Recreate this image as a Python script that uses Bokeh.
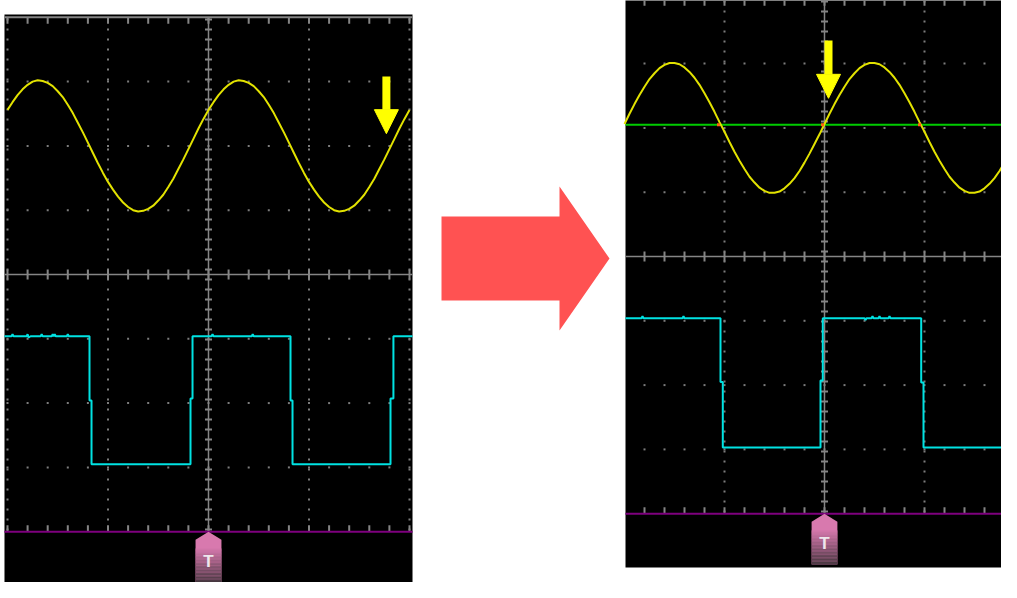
import numpy as np
from bokeh.plotting import figure
from bokeh.models import Range1d, Arrow, NormalHead
from bokeh.core.properties import value
from bokeh.embed import file_html
from bokeh.resources import INLINE

# ------------------------------------------------------------------
# DATA (oscilloscope divisions; time axis: 0 = trigger point)
# ------------------------------------------------------------------
SAMPLE_STEP = 0.05          # sampling interval of the displayed sine traces (div)
SAMPLE_START = -2.0

# Left screen, CH1 (yellow) sine, read every 0.05 div from t=-2.0 to 2.0
left_sine = [
    2.56, 2.68, 2.79, 2.88, 2.95, 3.00, 3.02, 3.01, 2.98, 2.93,
    2.85, 2.76, 2.64, 2.51, 2.36, 2.21, 2.05, 1.89, 1.73, 1.58,
    1.44, 1.32, 1.21, 1.12, 1.05, 1.00, 0.98, 0.99, 1.02, 1.07,
    1.15, 1.24, 1.36, 1.49, 1.64, 1.79, 1.95, 2.11, 2.27, 2.42,
    2.56, 2.68, 2.79, 2.88, 2.95, 3.00, 3.02, 3.01, 2.98, 2.93,
    2.85, 2.76, 2.64, 2.51, 2.36, 2.21, 2.05, 1.89, 1.73, 1.58,
    1.44, 1.32, 1.21, 1.12, 1.05, 1.00, 0.98, 0.99, 1.02, 1.07,
    1.15, 1.24, 1.36, 1.49, 1.64, 1.79, 1.95, 2.11, 2.27, 2.42,
    2.56,
]

# Right screen, CH1 (yellow) sine, read every 0.05 div from t=-2.0 to 2.0
right_sine = [
    2.06, 2.22, 2.37, 2.51, 2.64, 2.76, 2.85, 2.93, 2.98, 3.01,
    3.01, 2.99, 2.94, 2.87, 2.78, 2.67, 2.54, 2.40, 2.25, 2.09,
    1.94, 1.78, 1.63, 1.49, 1.36, 1.24, 1.15, 1.07, 1.02, 0.99,
    0.99, 1.01, 1.06, 1.13, 1.22, 1.33, 1.46, 1.60, 1.75, 1.90,
    2.06, 2.22, 2.37, 2.51, 2.64, 2.76, 2.85, 2.93, 2.98, 3.01,
    3.01, 2.99, 2.94, 2.87, 2.78, 2.67, 2.54, 2.40, 2.25, 2.09,
    1.94, 1.78, 1.63, 1.49, 1.36, 1.24, 1.15, 1.07, 1.02, 0.99,
    0.99, 1.01, 1.06, 1.13, 1.22, 1.33, 1.46, 1.60, 1.75, 1.90,
    2.06,
]

# CH2 (cyan) square waves: (time, level) vertices
left_sq_t = [-2.03, -1.96, -1.95, -1.94, -1.81, -1.80, -1.79, -1.77, -1.67, -1.66,
             -1.65, -1.56, -1.55, -1.54, -1.53, -1.52, -1.41, -1.40, -1.39, -1.184,
             -1.184, -1.164, -1.164, -0.179, -0.179, -0.159, -0.159, 0.03, 0.04, 0.05,
             0.43, 0.44, 0.45, 0.816, 0.816, 0.836, 0.836, 1.811, 1.811, 1.84,
             1.84, 2.03]
left_sq_v = [-0.96, -0.96, -0.93, -0.96, -0.96, -0.93, -0.98, -0.96, -0.96, -0.93,
             -0.96, -0.96, -0.93, -0.96, -0.93, -0.96, -0.96, -0.93, -0.96, -0.96,
             -1.96, -1.96, -2.95, -2.95, -1.93, -1.93, -0.96, -0.96, -0.93, -0.96,
             -0.96, -0.93, -0.96, -0.96, -1.96, -1.96, -2.95, -2.95, -1.93, -1.93,
             -0.96, -0.96]

right_sq_t = [-1.99, -1.83, -1.82, -1.81, -1.42, -1.41, -1.40, -1.04, -1.04, -1.017,
              -1.017, -0.04, -0.04, -0.017, -0.017, 0.40, 0.41, 0.42, 0.47, 0.48,
              0.49, 0.54, 0.55, 0.56, 0.64, 0.65, 0.66, 0.967, 0.967, 0.99,
              0.99, 1.90, 1.91, 2.0]
right_sq_v = [-0.96, -0.96, -0.93, -0.96, -0.96, -0.93, -0.96, -0.96, -1.95, -1.95,
              -2.97, -2.97, -1.93, -1.93, -0.96, -0.96, -0.99, -0.96, -0.96, -0.93,
              -0.96, -0.96, -0.93, -0.96, -0.96, -0.93, -0.96, -0.96, -1.96, -1.96,
              -2.97, -2.97, -2.94, -2.97]

trigger_level_right = 2.05            # green trigger-level line (right screen)
right_crossings_t = [-1.06, -0.02, 0.95]
ground_level = -4.0                   # purple time baseline
left_yellow_arrow = {"t": 1.77, "top": 3.08, "tip": 2.19}
right_yellow_arrow = {"t": 0.04, "top": 3.36, "tip": 2.46}
trigger_marker_t = 0.0
trigger_label = "T"

# ------------------------------------------------------------------
# LAYOUT / STYLE
# ------------------------------------------------------------------
W, H = 1001, 582
LEFT = {"x0": 208, "xs": 100.5, "y0": 274, "ys": 64.3,
        "t_lo": -2.03, "t_hi": 2.03, "v_top": 4.044, "v_bot": -5.0}
RIGHT = {"x0": 824, "xs": 100.0, "y0": 256, "ys": 64.3,
         "t_lo": -1.99, "t_hi": 2.0, "v_top": 4.0, "v_bot": -4.837}

GRID = "#858585"
DOT = "#7c7c7c"
YEL = "#E2E200"
CYAN = "#00E2E2"
GREEN = "#00CC00"
PURPLE = "#7E007E"
ARROW_YEL = "#FFFF00"
RED = "#FF5252"
VMINOR = 10 / 64.3      # vertical minor dot spacing (div)

p = figure(width=W, height=H, x_range=Range1d(0, W), y_range=Range1d(H, 0),
           output_backend="svg", toolbar_location=None, x_axis_type=None, y_axis_type=None,
           background_fill_color="white", border_fill_color="white",
           outline_line_color=None, min_border=0)
p.xgrid.visible = False
p.ygrid.visible = False


def add_ranges(name, s):
    p.extra_x_ranges[name + "t"] = Range1d(-s["x0"] / s["xs"], (W - s["x0"]) / s["xs"])
    p.extra_y_ranges[name + "v"] = Range1d((s["y0"] - H) / s["ys"], s["y0"] / s["ys"])
    return {"x_range_name": name + "t", "y_range_name": name + "v"}


def graticule(rn, s):
    lo, hi = s["t_lo"], s["t_hi"]
    xs = np.round(np.arange(-10, 11) * 0.2, 3)
    xs = xs[(xs > lo + 0.005) & (xs < hi - 0.005)]
    ys = (np.arange(-26, 26) + 0.5) * VMINOR
    for yl in (-3, -2, -1, 1, 2, 3):
        p.scatter(xs, np.full(len(xs), yl), marker="square", size=2,
                  fill_color=DOT, line_color=None, **rn)
    for xl in (-2, -1, 1, 2):
        if lo + 0.005 < xl < hi - 0.005:
            p.scatter(np.full(len(ys), xl), ys, marker="square", size=2,
                      fill_color=DOT, line_color=None, **rn)
    p.segment(x0=[lo], y0=[0], x1=[hi], y1=[0], line_color=GRID, line_width=1.5, **rn)
    p.segment(x0=[0], y0=[-4], x1=[0], y1=[4], line_color=GRID, line_width=1.5, **rn)
    p.scatter(xs, np.zeros(len(xs)), marker="dash", angle=np.pi / 2, size=10,
              line_color=GRID, line_width=2, **rn)
    p.scatter(np.zeros(len(ys)), ys, marker="dash", size=7,
              line_color=GRID, line_width=2, **rn)
    p.segment(x0=[lo], y0=[4], x1=[hi], y1=[4], line_color=GRID, line_width=2, **rn)
    p.segment(x0=xs, y0=np.full(len(xs), 4.0), x1=xs, y1=np.full(len(xs), 3.9),
              line_color=GRID, line_width=2, **rn)
    p.segment(x0=xs, y0=np.full(len(xs), ground_level), x1=xs,
              y1=np.full(len(xs), ground_level + 0.1), line_color=GRID, line_width=2, **rn)


def trigger_marker(rn, t):
    hw, sh, h = 0.129, 0.124, 0.79
    y0 = ground_level
    p.patch([t, t + hw, t + hw, t - hw, t - hw],
            [y0, y0 - sh, y0 - h, y0 - h, y0 - sh],
            fill_color="#D879AE", line_color=None, **rn)
    top_c = np.array([216, 121, 174])
    bot_c = np.array([70, 55, 63])
    nb = 24
    edges = np.linspace(y0 - 0.26, y0 - h, nb + 1)
    for i in range(nb):
        f = (i + 1) / nb
        c = (top_c * (1 - f) + bot_c * f).astype(int)
        p.quad(left=[t - hw], right=[t + hw], top=[edges[i]], bottom=[edges[i + 1]],
               fill_color="#%02x%02x%02x" % tuple(c), line_color=None, **rn)
    p.text(x=[t], y=[y0 - 0.47], text=[trigger_label], text_align="center",
           text_baseline="middle", text_font=value("Liberation Sans"),
           text_font_size="17px", text_font_style="bold", text_color="#EEE6EC", **rn)


def yellow_arrow(rn, a):
    p.add_layout(Arrow(end=NormalHead(size=24, fill_color=ARROW_YEL, line_color=ARROW_YEL),
                       x_start=a["t"], y_start=a["top"], x_end=a["t"], y_end=a["tip"],
                       line_color=ARROW_YEL, line_width=8, **rn))


t_sine = np.round(SAMPLE_START + np.arange(len(left_sine)) * SAMPLE_STEP, 3)

# ---------------- left scope ----------------
rl = add_ranges("l", LEFT)
p.quad(left=[LEFT["t_lo"]], right=[LEFT["t_hi"]], top=[LEFT["v_top"]], bottom=[LEFT["v_bot"]],
       fill_color="black", line_color=None, **rl)
graticule(rl, LEFT)
p.line(t_sine, left_sine, line_color=YEL, line_width=2, **rl)
p.line(left_sq_t, left_sq_v, line_color=CYAN, line_width=2, **rl)
p.segment(x0=[LEFT["t_lo"]], y0=[ground_level], x1=[LEFT["t_hi"]], y1=[ground_level],
          line_color=PURPLE, line_width=2, **rl)
trigger_marker(rl, trigger_marker_t)
yellow_arrow(rl, left_yellow_arrow)

# ---------------- big red arrow (page pixel units) ----------------
arrow_x = [441, 559, 559, 609, 559, 559, 441]
arrow_y = [216, 216, 186, 258, 330, 300, 300]
p.patch(arrow_x, arrow_y, fill_color=RED, line_color=None)

# ---------------- right scope ----------------
rr = add_ranges("r", RIGHT)
p.quad(left=[RIGHT["t_lo"]], right=[RIGHT["t_hi"]], top=[RIGHT["v_top"]], bottom=[RIGHT["v_bot"]],
       fill_color="black", line_color=None, **rr)
graticule(rr, RIGHT)
p.segment(x0=[RIGHT["t_lo"]], y0=[trigger_level_right], x1=[RIGHT["t_hi"]],
          y1=[trigger_level_right], line_color=GREEN, line_width=2, **rr)
p.line(t_sine, right_sine, line_color=YEL, line_width=2, **rr)
p.scatter(right_crossings_t, [trigger_level_right] * 3, marker="square", size=3,
          fill_color="#FF6010", line_color=None, **rr)
p.line(right_sq_t, right_sq_v, line_color=CYAN, line_width=2, **rr)
p.segment(x0=[RIGHT["t_lo"]], y0=[ground_level], x1=[RIGHT["t_hi"]], y1=[ground_level],
          line_color=PURPLE, line_width=2, **rr)
trigger_marker(rr, trigger_marker_t)
yellow_arrow(rr, right_yellow_arrow)

open("out.html", "w").write(file_html(p, INLINE))
